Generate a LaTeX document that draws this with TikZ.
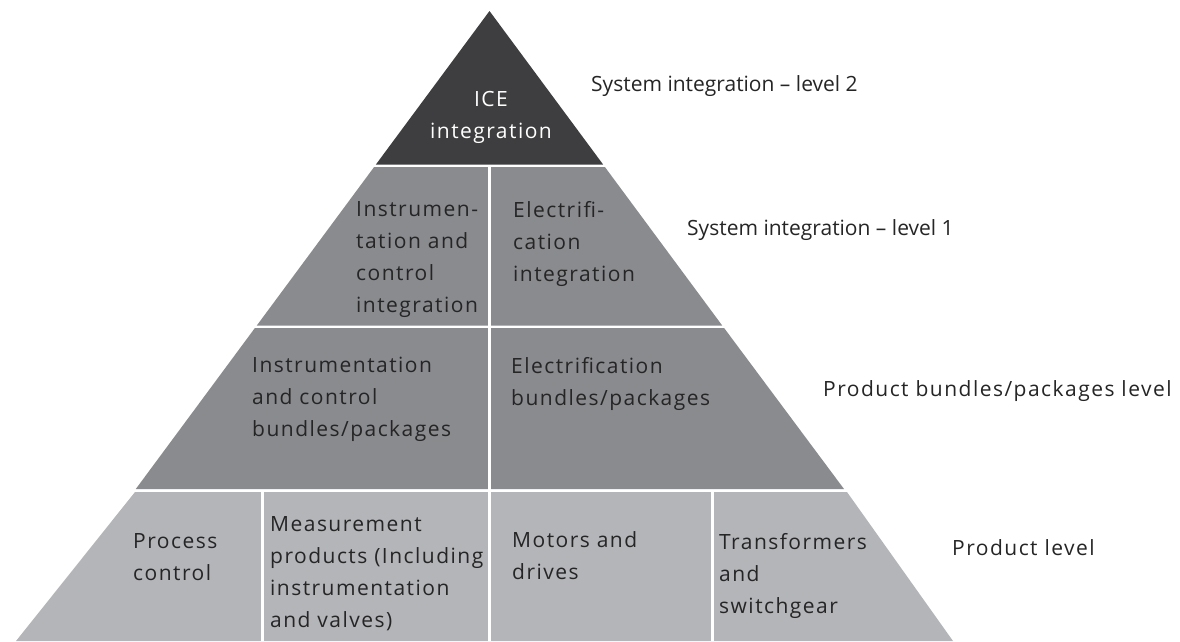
\documentclass[tikz,border=0pt]{standalone}
\usepackage{fontspec}
\setmainfont{Open Sans}
\newfontfamily\spacedfont{Open Sans}[LetterSpace=7]
\usepackage{tikz}

\definecolor{topgray}{HTML}{3E3E40}
\definecolor{midgray}{HTML}{8A8B8F}
\definecolor{lowgray}{HTML}{B4B5B9}
\definecolor{inkgray}{HTML}{262526}

\begin{document}
\begin{tikzpicture}[x=1pt,y=-1pt,
    cell/.style={anchor=north west,inner sep=0pt,align=left,text=inkgray,font=\spacedfont\fontsize{21}{32}\selectfont},
    lvl/.style={anchor=base west,inner sep=0pt,text=inkgray,font=\fontsize{21}{32}\selectfont},
    gap/.style={white,line width=2.5pt}]
      \useasboundingbox (0,0) rectangle (1180,641);
      % tiers
      \fill[topgray] (489.5,11) -- (603.1,164.5) -- (375.9,164.5) -- cycle;
      \fill[midgray] (374.1,167) -- (604.9,167) -- (722.2,325.5) -- (256.8,325.5) -- cycle;
      \fill[midgray] (254.9,328) -- (724.1,328) -- (844,489) -- (135.8,489) -- cycle;
      \fill[lowgray] (135,492) -- (847,492) -- (953,641) -- (16,641) -- cycle;
      % dividers
      \draw[gap] (489.5,167) -- (489.5,641);
      \draw[gap] (262.5,492) -- (262.5,641);
      \draw[gap] (712.5,492) -- (712.5,641);
      % cell texts (top of first line)
      \node[cell,anchor=north,align=center,text=white] (ice) at (491,91) {ICE\\integration};
      \node[cell] (icint) at (356,201) {Instrumen-\\tation and\\control\\integration};
      \node[cell] (elint) at (513,201) {Electrifi-\\cation\\integration};
      \node[cell] (icbun) at (252,357) {Instrumentation\\and control\\bundles/packages};
      \node[cell] (elbun) at (511,357) {Electrification\\bundles/packages};
      \node[cell] (proc) at (133,533) {Process\\control};
      \node[cell] (meas) at (270,516) {Measurement\\products (Including\\instrumentation\\and valves)};
      \node[cell] (motor) at (512,531) {Motors and\\drives};
      \node[cell] (trafo) at (719,533) {Transformers\\and\\switchgear};
      % level labels
      \node[lvl] (lvltwo) at (591,91) {System integration – level 2};
      \node[lvl] (lvlone) at (687,235) {System integration – level 1};
      \node[lvl,font=\spacedfont\fontsize{21}{32}\selectfont] (lvlbun) at (823,396) {Product bundles/packages level};
      \node[lvl,font=\spacedfont\fontsize{21}{32}\selectfont] (lvlprod) at (952,555) {Product level};
    \end{tikzpicture}
\end{document}
